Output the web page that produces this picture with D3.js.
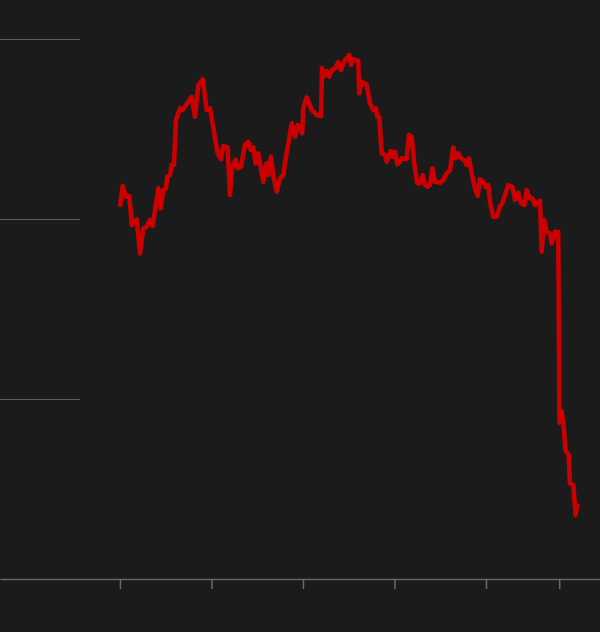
<!DOCTYPE html>
<html>
<head>
<meta charset="utf-8">
<script src="https://cdn.jsdelivr.net/npm/d3@7"></script>
<style>
  html, body { margin: 0; padding: 0; background: #1b1b1b; }
  svg { display: block; }
</style>
</head>
<body>
<svg id="chart" width="600" height="632"></svg>
<script>
// Dates as fractional years
const dates = [
  2016.000, 2016.030, 2016.066, 2016.102, 2016.131, 2016.183, 2016.219, 2016.255, 2016.292, 2016.328,
  2016.357, 2016.419, 2016.445, 2016.473, 2016.503, 2016.517, 2016.546, 2016.565, 2016.590, 2016.612,
  2016.656, 2016.685, 2016.746, 2016.784, 2016.820, 2016.856, 2016.904, 2016.948, 2016.984, 2017.049,
  2017.068, 2017.104, 2017.129, 2017.177, 2017.202, 2017.227, 2017.264, 2017.286, 2017.322, 2017.366,
  2017.402, 2017.432, 2017.457, 2017.483, 2017.511, 2017.566, 2017.603, 2017.621, 2017.650, 2017.675,
  2017.713, 2017.749, 2017.785, 2017.811, 2017.847, 2017.877, 2017.913, 2017.942, 2017.992, 2018.003,
  2018.040, 2018.095, 2018.150, 2018.197, 2018.208, 2018.230, 2018.259, 2018.287, 2018.314, 2018.350,
  2018.386, 2018.415, 2018.448, 2018.506, 2018.525, 2018.550, 2018.604, 2018.615, 2018.642, 2018.696,
  2018.732, 2018.768, 2018.798, 2018.812, 2018.834, 2018.860, 2018.896, 2018.915, 2018.958, 2018.980,
  2019.005, 2019.031, 2019.060, 2019.079, 2019.133, 2019.158, 2019.188, 2019.216, 2019.249, 2019.279,
  2019.308, 2019.333, 2019.363, 2019.388, 2019.413, 2019.443, 2019.497, 2019.533, 2019.571, 2019.607,
  2019.643, 2019.669, 2019.697, 2019.727, 2019.763, 2019.789, 2019.814, 2019.844, 2019.880, 2019.909,
  2019.934, 2019.971, 2019.997, 2020.025, 2020.044, 2020.080, 2020.117, 2020.153, 2020.178, 2020.208,
  2020.244, 2020.288, 2020.317, 2020.353, 2020.383, 2020.419, 2020.445, 2020.481, 2020.506, 2020.536,
  2020.590, 2020.609, 2020.637, 2020.663, 2020.699, 2020.718, 2020.754, 2020.790, 2020.803, 2020.827,
  2020.847, 2020.869, 2020.902, 2020.918, 2020.955, 2020.979, 2021.000
];
const values = [
  20.68, 21.83, 21.24, 21.28, 19.67, 19.98, 18.09, 19.48, 19.57, 19.94,
  19.61, 21.71, 20.59, 21.61, 21.71, 22.35, 22.44, 23.00, 23.00, 25.50,
  26.15, 26.06, 26.52, 26.79, 25.68, 27.44, 27.76, 26.06, 26.15, 24.21,
  23.65, 23.32, 24.06, 23.98, 21.33, 22.91, 23.28, 22.82, 22.91, 24.11,
  24.29, 23.83, 23.98, 23.09, 23.65, 22.07, 23.09, 22.44, 23.46, 22.44,
  21.52, 22.26, 22.44, 23.37, 24.39, 25.32, 24.57, 25.22, 24.76, 26.15,
  26.76, 26.06, 25.78, 25.72, 28.39, 27.91, 28.22, 27.91, 28.28, 28.37,
  28.71, 28.28, 28.74, 29.11, 28.56, 28.89, 28.78, 26.98, 27.63, 27.48,
  26.43, 26.06, 26.15, 25.68, 25.68, 23.65, 23.56, 23.18, 23.78, 23.46,
  23.74, 23.04, 23.18, 23.37, 23.33, 24.67, 24.57, 23.09, 21.98, 21.98,
  22.44, 21.89, 21.79, 21.89, 22.82, 22.07, 22.02, 22.17, 22.54, 22.72,
  23.98, 23.37, 23.65, 23.37, 23.28, 23.00, 23.37, 22.54, 21.71, 21.28,
  22.21, 22.07, 21.79, 21.89, 20.96, 20.13, 20.13, 20.72, 20.87, 21.33,
  21.89, 21.79, 21.06, 21.46, 20.87, 20.78, 21.61, 21.15, 21.15, 20.78,
  21.02, 18.18, 19.94, 19.29, 19.21, 18.65, 19.29, 19.29, 8.67, 9.33,
  8.61, 7.11, 6.94, 5.32, 5.22, 3.56, 4.17
];
const xTicks = [2016, 2017, 2018, 2019, 2020, 2020.8];
const yTicks = [10, 20, 30];

const width = 600, height = 632;
const svg = d3.select("#chart");

const x = d3.scaleLinear().domain([2014.689, 2021.246]).range([0, 600]);
const y = d3.scaleLinear().domain([0, 30]).range([579, 39]);

// Horizontal grid stubs on the left
svg.append("g")
  .selectAll("line")
  .data(yTicks)
  .join("line")
  .attr("x1", 0).attr("x2", 80)
  .attr("y1", d => Math.round(y(d)) + 0.5)
  .attr("y2", d => Math.round(y(d)) + 0.5)
  .attr("stroke", "#5c5c5c")
  .attr("stroke-width", 1);

// Bottom axis
const xAxis = d3.axisBottom(x).tickValues(xTicks).tickSize(10).tickSizeOuter(0).tickFormat("");
const gx = svg.append("g")
  .attr("transform", `translate(0,${y(0)})`)
  .call(xAxis);
gx.select(".domain").attr("stroke", "#666666").attr("stroke-width", 1.5);
gx.selectAll(".tick line").attr("stroke", "#6a6a6a").attr("stroke-width", 1.5);

// The line
const line = d3.line()
  .x((d, i) => x(dates[i]))
  .y(d => y(d));

svg.append("path")
  .datum(values)
  .attr("d", line)
  .attr("fill", "none")
  .attr("stroke", "#cc0000")
  .attr("stroke-width", 4.5)
  .attr("stroke-linejoin", "round")
  .attr("stroke-linecap", "butt");
</script>
</body>
</html>
